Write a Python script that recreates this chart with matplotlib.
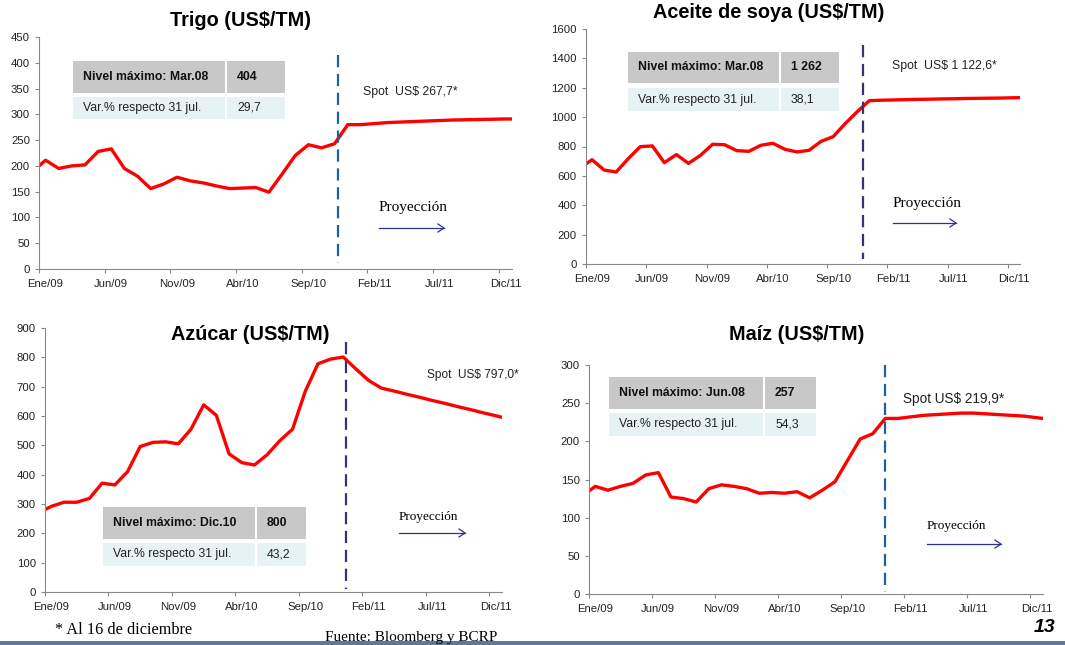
import matplotlib.pyplot as plt
from matplotlib.patches import Rectangle

# monthly positions: Dic/08 (-1) ... Ene/12 (36); plotted at category centres
months = list(range(-1, 37))
tick_labels = ['Ene/09', 'Jun/09', 'Nov/09', 'Abr/10', 'Sep/10', 'Feb/11', 'Jul/11', 'Dic/11']

trigo = [189, 211, 195, 200, 202, 228, 233, 195, 180, 156, 165, 178, 171, 167, 161, 156,
         157, 158, 149, 184, 220, 241, 235, 243, 280, 280, 282, 284, 285, 286, 287, 288,
         289, 289.5, 290, 290.5, 291, 291]
aceite = [652, 710, 640, 626, 717, 799, 804, 690, 745, 685, 740, 815, 812, 772, 767, 808,
          822, 781, 763, 774, 835, 867, 956, 1037, 1112, 1115, 1117, 1119, 1121, 1122, 1124,
          1125, 1127, 1128, 1129, 1130, 1132, 1133]
azucar = [270, 292, 306, 306, 319, 371, 365, 410, 496, 510, 512, 505, 555, 638, 602, 471,
          441, 433, 468, 516, 555, 684, 778, 794, 801, 760, 721, 695, 685, 674, 664, 653,
          643, 632, 622, 611, 601, 590]
maiz = [129, 141, 136, 141, 145, 156, 159, 127, 125, 120.5, 138, 143, 141, 138, 132, 133,
        132, 134, 126, 136, 147, 175, 203, 210, 230, 230, 232, 234, 235, 236, 237, 237,
        236, 235, 234, 233, 231, 229]

W, H = 1065, 645
fig = plt.figure(figsize=(W / 100, H / 100), dpi=100)
plt.rcParams['font.family'] = ['Liberation Sans', 'DejaVu Sans']

SERIF = ['Liberation Serif', 'DejaVu Serif']


def fx(x):
    return x / W


def fy(y):
    return 1 - y / H


def px_text(x, y, s, **kw):
    fig.text(fx(x), fy(y), s, va='center', **kw)


def panel(box, values, ymax, ystep, title, title_xy, vline, vcolor, spot, spot_xy, spot_size,
          proj_xy, proj_size, arrow_x2, arrow_y, table, cells):
    left, top, right, bottom = box
    ax = fig.add_axes([fx(left), fy(bottom), (right - left) / W, (bottom - top) / H])
    ax.plot([m + 0.5 for m in months], values, color='#FF0000', lw=2.4, solid_joinstyle='round')
    ax.set_xlim(0, 36)
    ax.set_ylim(0, ymax)
    ax.set_yticks(range(0, ymax + 1, ystep))
    ax.set_xticks(range(0, 36, 5))
    ax.set_xticklabels([])
    ax.set_xticks([t + 0.5 for t in range(0, 36, 5)], minor=True)
    ax.set_xticklabels(tick_labels, minor=True)
    ax.tick_params(which='both', labelsize=8.2, length=3, color='#888888', labelcolor='#222222')
    ax.tick_params(axis='x', which='minor', length=0, pad=7)
    for s in ['top', 'right']:
        ax.spines[s].set_visible(False)
    for s in ['left', 'bottom']:
        ax.spines[s].set_color('#888888')
    ax.patch.set_alpha(0)

    px_text(title_xy[0], title_xy[1], title, ha='center', fontsize=14.3, fontweight='bold')

    # dashed separator between history and projection
    fig.add_artist(plt.Line2D([fx(vline[0]), fx(vline[0])], [fy(vline[1]), fy(vline[2])],
                              color=vcolor, lw=1.6, dashes=(5.5, 3)))

    px_text(spot_xy[0], spot_xy[1], spot, ha='left', fontsize=spot_size, color='#222222')
    px_text(proj_xy[0], proj_xy[1], 'Proyección', ha='left', fontsize=proj_size, family=SERIF)
    fig.add_artist(plt.Line2D([fx(proj_xy[0]), fx(arrow_x2)], [fy(arrow_y), fy(arrow_y)],
                              color='#2E3192', lw=0.9))
    fig.add_artist(plt.Line2D([fx(arrow_x2 - 6), fx(arrow_x2), fx(arrow_x2 - 6)],
                              [fy(arrow_y - 4), fy(arrow_y), fy(arrow_y + 4)],
                              color='#2E3192', lw=0.9))

    # summary table
    x0, x1, x2, x3, y0, y1, y2, y3 = table
    for (a, b, c, d, col) in [(x0, x1, y0, y1, '#C8C8C8'), (x2, x3, y0, y1, '#C8C8C8'),
                              (x0, x1, y2, y3, '#E6F2F3'), (x2, x3, y2, y3, '#E6F2F3')]:
        fig.add_artist(Rectangle((fx(a), fy(d)), (b - a) / W, (d - c) / H,
                                 transform=fig.transFigure, color=col, lw=0))
    px_text(x0 + 10, (y0 + y1) / 2, cells[0], fontsize=8.8, fontweight='bold', color='#111111')
    px_text(x2 + 10, (y0 + y1) / 2, cells[1], fontsize=8.8, fontweight='bold', color='#111111')
    px_text(x0 + 10, (y2 + y3) / 2, 'Var.% respecto 31 jul.', fontsize=8.8, color='#222222')
    px_text(x2 + 10, (y2 + y3) / 2, cells[2], fontsize=8.8, color='#222222')
    return ax


panel((39, 37, 512, 269), trigo, 450, 50, 'Trigo (US$/TM)', (240, 21),
      (338, 55, 263), '#1F5FA0', 'Spot  US$ 267,7*', (363, 92), 8.8,
      (379, 208), 11, 444, 228, (73, 225, 227, 285, 61, 93, 97, 119),
      ('Nivel máximo: Mar.08', '404', '29,7'))

panel((586, 29, 1020, 264), aceite, 1600, 200, 'Aceite de soya (US$/TM)', (769, 13),
      (863, 45, 259), '#33336E', 'Spot  US$ 1 122,6*', (892, 66), 8.8,
      (893, 203), 11, 956, 223, (628, 779, 781, 839, 52, 83, 88, 111),
      ('Nivel máximo: Mar.08', '1 262', '38,1'))

panel((45, 328, 502, 592), azucar, 900, 100, 'Azúcar (US$/TM)', (250, 335),
      (346, 342, 589), '#33336E', 'Spot  US$ 797,0*', (427, 375), 8.6,
      (399, 517), 9.5, 465, 533, (103, 255, 257, 306, 507, 539, 543, 566),
      ('Nivel máximo: Dic.10', '800', '43,2'))

panel((589, 365, 1043, 594), maiz, 300, 50, 'Maíz (US$/TM)', (797, 335),
      (885, 365, 592), '#1F5FA0', 'Spot US$ 219,9*', (903, 399), 9.8,
      (927, 526), 9.5, 1001, 544, (609, 763, 765, 816, 377, 409, 413, 436),
      ('Nivel máximo: Jun.08', '257', '54,3'))

px_text(55, 630, '* Al 16 de diciembre', ha='left', fontsize=11.7, family=SERIF)
px_text(325, 637, 'Fuente: Bloomberg y BCRP', ha='left', fontsize=11, family=SERIF)
px_text(1055, 628, '13', ha='right', fontsize=14, fontweight='bold', style='italic')

fig.add_artist(Rectangle((0, 0), 1, 4 / H, transform=fig.transFigure, color='#5A7A98', lw=0))

fig.savefig('out.png', dpi=100)
